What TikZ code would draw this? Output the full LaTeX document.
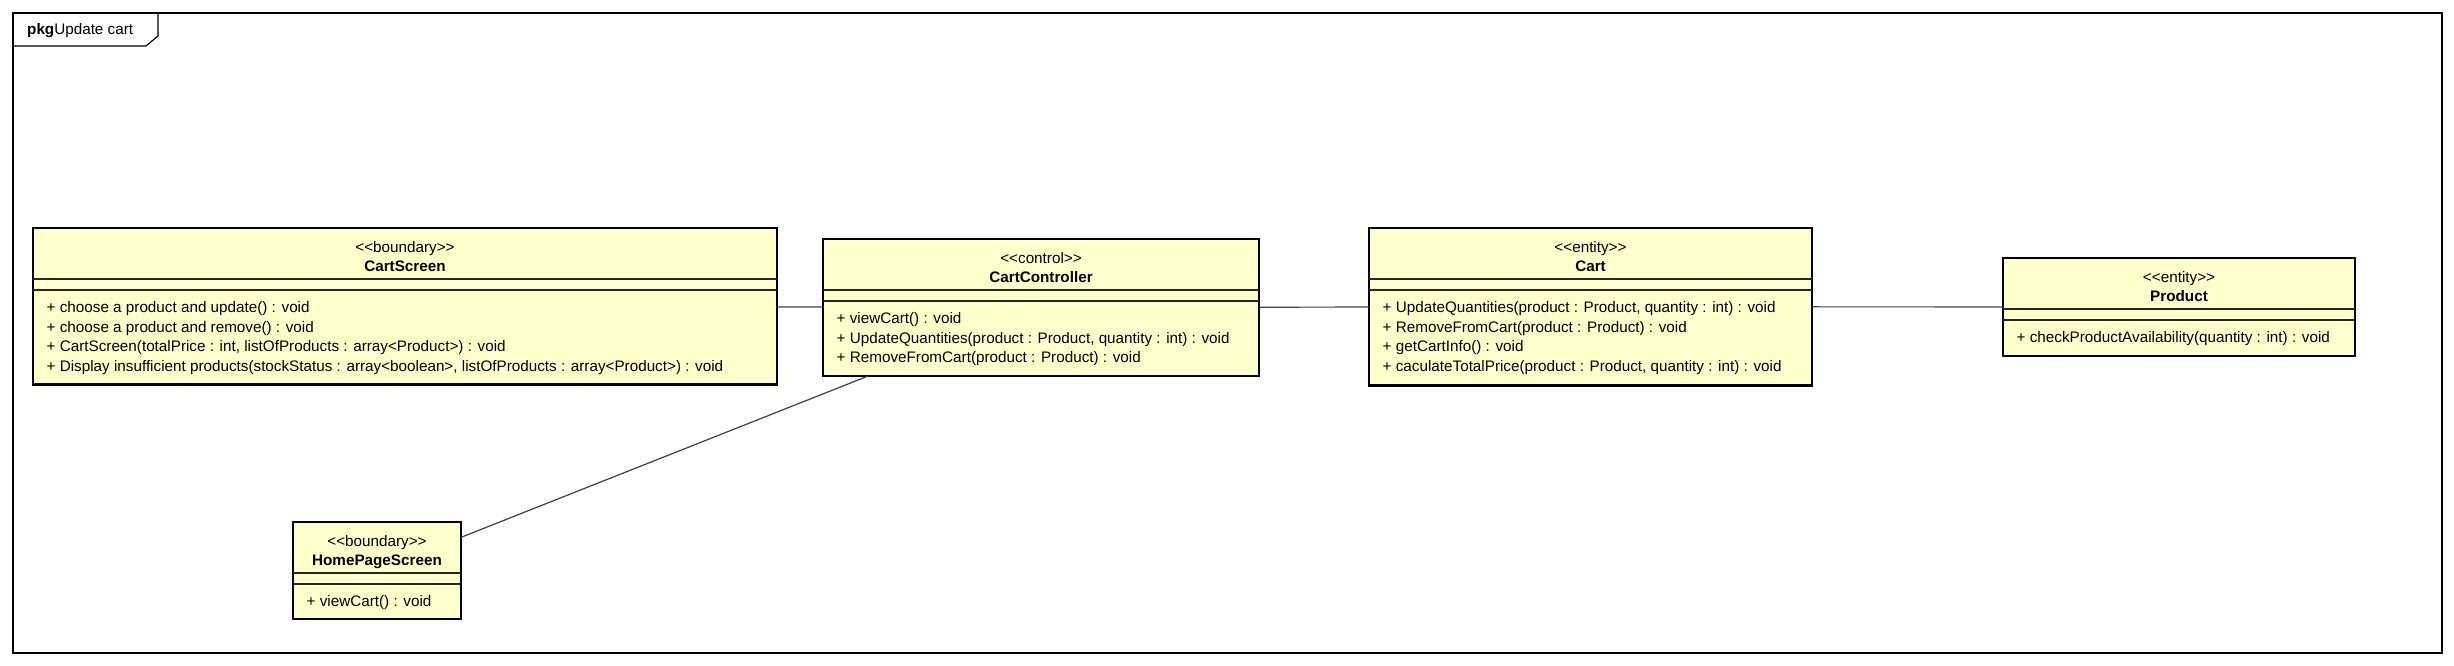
\documentclass[tikz,border=0pt]{standalone}
\usepackage{fontspec}
\newfontfamily\umlfont{Liberation Sans}
\usepackage{tikz}
\usetikzlibrary{calc, positioning}
\definecolor{classyellow}{RGB}{255,255,204}

\begin{document}
\begin{tikzpicture}[x=1pt, y=-1pt,
		umlbox/.style={draw=black, line width=2.6pt, fill=classyellow, anchor=north west, inner sep=0, outer sep=0},
		stereo/.style={anchor=base, inner sep=0, font=\umlfont\fontsize{15.25}{19.5}\selectfont},
		classname/.style={anchor=base, inner sep=0, font=\umlfont\bfseries\fontsize{15.25}{19.5}\selectfont},
		opline/.style={anchor=base west, inner sep=0, font=\umlfont\fontsize{15.25}{19.5}\selectfont},
		sepline/.style={line width=1.3pt, black!85},
		assoc/.style={line width=1.2pt, black!75}]
		\useasboundingbox (0,0) rectangle (2454,666);
		
		% package frame
		\draw[line width=1.2pt] (13,13) rectangle (2442,653);
		\draw[line width=1.2pt] (13,46) -- (146,46) -- (158,36) -- (158,13);
		\node[opline] (pkgtab) at (27,35) {\textbf{pkg}Update cart};
		
		% CartScreen
		\node[umlbox, minimum width=744, minimum height=156.5] (cartscreen) at (33,228) {};
		\node[stereo] (cartscreen-st) at ($(cartscreen.north)+(0,24)$) {<<boundary>>};
		\node[classname] (cartscreen-nm) at ($(cartscreen.north)+(0,43.5)$) {CartScreen};
		\draw[sepline] ($(cartscreen.north west)+(0,51)$) -- ($(cartscreen.north east)+(0,51)$);
		\draw[sepline] ($(cartscreen.north west)+(0,62)$) -- ($(cartscreen.north east)+(0,62)$);
		\foreach \op [count=\i] in {{+ choose a product and update() : void},
			{+ choose a product and remove() : void},
			{+ CartScreen(totalPrice : int, listOfProducts : array<Product>) : void},
			{+ Display insufficient products(stockStatus : array<boolean>, listOfProducts : array<Product>) : void}}
			\node[opline] (cartscreen-op\i) at ($(cartscreen.north west)+(13.5,65+19.5*\i)$) {\op};
		
		% CartController
		\node[umlbox, minimum width=436, minimum height=137] (cartcontroller) at (823,239) {};
		\node[stereo] (cartcontroller-st) at ($(cartcontroller.north)+(0,24)$) {<<control>>};
		\node[classname] (cartcontroller-nm) at ($(cartcontroller.north)+(0,43.5)$) {CartController};
		\draw[sepline] ($(cartcontroller.north west)+(0,51)$) -- ($(cartcontroller.north east)+(0,51)$);
		\draw[sepline] ($(cartcontroller.north west)+(0,62)$) -- ($(cartcontroller.north east)+(0,62)$);
		\foreach \op [count=\i] in {{+ viewCart() : void},
			{+ UpdateQuantities(product : Product, quantity : int) : void},
			{+ RemoveFromCart(product : Product) : void}}
			\node[opline] (cartcontroller-op\i) at ($(cartcontroller.north west)+(13.5,65+19.5*\i)$) {\op};
		
		% Cart
		\node[umlbox, minimum width=443, minimum height=157.5] (cart) at (1369,228) {};
		\node[stereo] (cart-st) at ($(cart.north)+(0,24)$) {<<entity>>};
		\node[classname] (cart-nm) at ($(cart.north)+(0,43.5)$) {Cart};
		\draw[sepline] ($(cart.north west)+(0,51)$) -- ($(cart.north east)+(0,51)$);
		\draw[sepline] ($(cart.north west)+(0,62)$) -- ($(cart.north east)+(0,62)$);
		\foreach \op [count=\i] in {{+ UpdateQuantities(product : Product, quantity : int) : void},
			{+ RemoveFromCart(product : Product) : void},
			{+ getCartInfo() : void},
			{+ caculateTotalPrice(product : Product, quantity : int) : void}}
			\node[opline] (cart-op\i) at ($(cart.north west)+(13.5,65+19.5*\i)$) {\op};
		
		% Product
		\node[umlbox, minimum width=352, minimum height=98] (product) at (2003,258) {};
		\node[stereo] (product-st) at ($(product.north)+(0,24)$) {<<entity>>};
		\node[classname] (product-nm) at ($(product.north)+(0,43.5)$) {Product};
		\draw[sepline] ($(product.north west)+(0,51)$) -- ($(product.north east)+(0,51)$);
		\draw[sepline] ($(product.north west)+(0,62)$) -- ($(product.north east)+(0,62)$);
		\node[opline] (product-op1) at ($(product.north west)+(13.5,84.5)$) {+ checkProductAvailability(quantity : int) : void};
		
		% HomePageScreen
		\node[umlbox, minimum width=168, minimum height=97] (homepagescreen) at (293,522) {};
		\node[stereo] (homepagescreen-st) at ($(homepagescreen.north)+(0,24)$) {<<boundary>>};
		\node[classname] (homepagescreen-nm) at ($(homepagescreen.north)+(0,43.5)$) {HomePageScreen};
		\draw[sepline] ($(homepagescreen.north west)+(0,51)$) -- ($(homepagescreen.north east)+(0,51)$);
		\draw[sepline] ($(homepagescreen.north west)+(0,62)$) -- ($(homepagescreen.north east)+(0,62)$);
		\node[opline] (homepagescreen-op1) at ($(homepagescreen.north west)+(13.5,84.5)$) {+ viewCart() : void};
		
		% associations
		\draw[assoc] (cartscreen) -- (cartcontroller);
		\draw[assoc] (cartcontroller) -- (cart);
		\draw[assoc] (cart) -- (product);
		\draw[assoc] (homepagescreen) -- (cartcontroller);
\end{tikzpicture}
\end{document}
